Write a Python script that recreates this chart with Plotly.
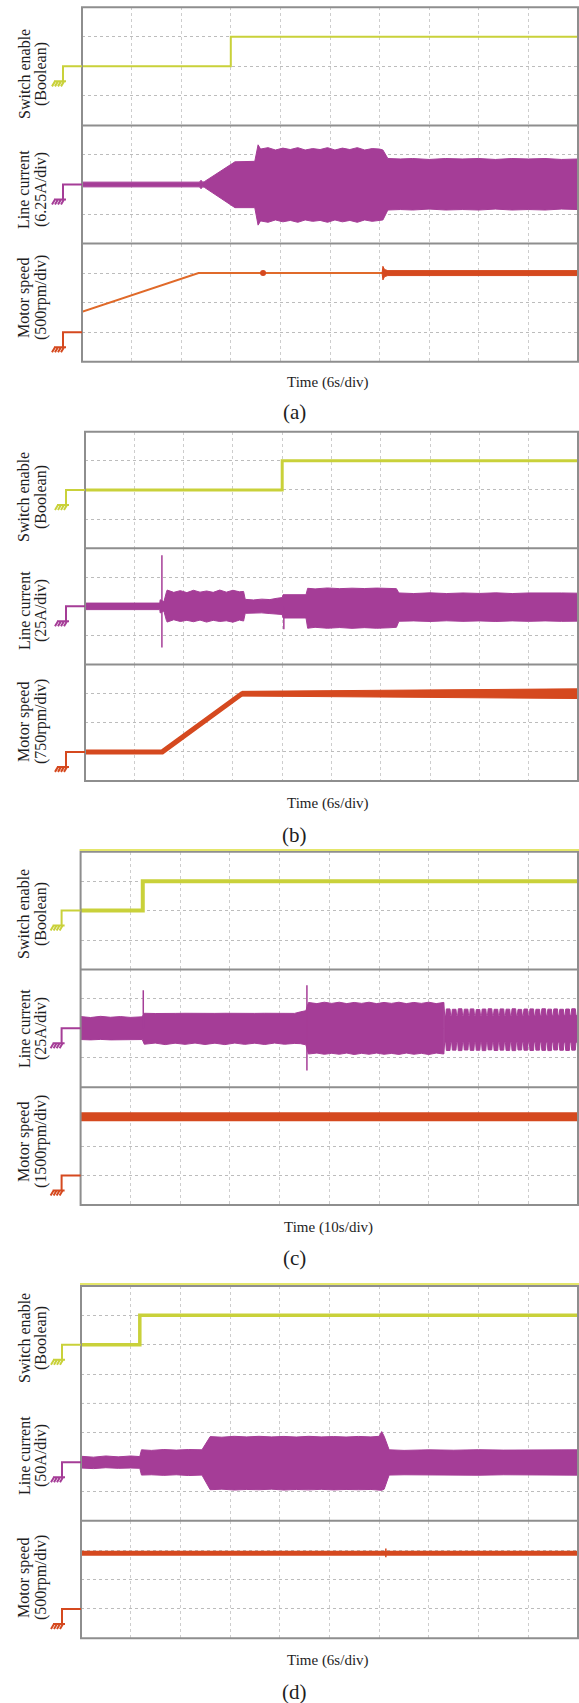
import plotly.graph_objects as go

W, H = 579, 1703

# ---------------- data (time in s, current in A, speed in rpm) ----------------
# Panel (a): 6 s/div, 6.25 A/div, 500 rpm/div
A_SW_T = [0, 18, 18, 60]
A_SW_V = [0, 0, 1, 1]
A_CUR_T = [0, 14.2, 14.4, 14.6, 14.8, 18.5, 20.9, 21.3, 21.6,
           22.5, 23.4, 24.3, 25.2, 26.1, 27.0, 27.9, 28.8, 29.7, 30.6, 31.5, 32.4, 33.3, 34.2, 35.1, 36.0,
           36.4, 37.0,
           38.5, 40, 42, 44, 46, 48, 50, 52, 54, 56, 58, 60]
A_CUR_UP = [0.5, 0.5, 0.9, 0.5, 0.6, 4.8, 4.9, 8.4, 7.5,
            7.8, 7.3, 7.7, 7.4, 7.8, 7.3, 7.6, 7.4, 7.8, 7.3, 7.7, 7.4, 7.8, 7.3, 7.6, 7.5,
            7.3, 5.5,
            5.4, 5.5, 5.3, 5.5, 5.4, 5.5, 5.3, 5.5, 5.4, 5.5, 5.3, 5.4]
A_CUR_LO = [-0.5, -0.5, -0.9, -0.5, -0.6, -4.9, -4.9, -8.6, -7.7,
            -8.0, -7.5, -7.9, -7.6, -8.0, -7.5, -7.8, -7.6, -8.0, -7.5, -7.9, -7.6, -8.0, -7.5, -7.8, -7.6,
            -7.5, -5.4,
            -5.3, -5.4, -5.2, -5.4, -5.3, -5.4, -5.2, -5.4, -5.3, -5.4, -5.2, -5.3]
A_SPD_T = [0, 14.1, 60]
A_SPD_V = [345, 1000, 1000]
A_RIP_T = [36.3, 36.4, 36.6, 37.0, 60]
A_RIP_UP = [1000, 1115, 1060, 1042, 1042]
A_RIP_LO = [1000, 885, 940, 958, 958]
A_BLOB_T = [21.9]
A_BLOB_V = [1000]

# Panel (b): 6 s/div, 25 A/div, 750 rpm/div
B_SW_T = [0, 24, 24, 60]
B_SW_V = [0, 0, 1, 1]
B_CUR_T = [0, 9.1, 9.15, 9.6, 9.9,
           10.0, 10.8, 11.6, 12.4, 13.2, 14.0, 14.8, 15.6, 16.4, 17.2, 18.0, 18.8,
           19.3,
           19.5, 20.5, 21.5, 22.5, 23.4, 24.0,
           24.1, 24.6, 26.9,
           27.1, 28.0, 29.5, 31.0, 32.5, 34.0, 35.5, 37.0, 37.9,
           38.2, 40, 42, 44, 46, 48, 50, 52, 54, 56, 58, 60]
B_CUR_UP = [2.8, 2.8, 5.7, 4.0, 12.0,
            14.0, 12.0, 13.5, 11.8, 13.8, 12.2, 13.2, 12.0, 14.0, 12.2, 13.8, 12.5,
            12.8,
            6.0, 5.5, 6.2, 5.8, 7.0, 7.5,
            10.0, 10.0, 10.0,
            15.5, 15.0, 15.8, 15.2, 15.6, 15.3, 15.7, 15.4, 15.2,
            11.5, 11.0, 11.6, 11.0, 11.5, 11.1, 11.6, 11.0, 11.5, 11.2, 11.5, 11.3]
B_CUR_LO = [-2.8, -2.8, -5.7, -4.0, -12.0,
            -13.5, -11.5, -13.0, -12.0, -13.2, -11.8, -13.5, -12.0, -13.0, -12.4, -13.6, -11.8,
            -12.6,
            -6.0, -5.8, -5.6, -6.2, -6.5, -7.0,
            -10.0, -10.5, -10.0,
            -18.8, -18.0, -18.8, -18.2, -18.9, -18.3, -18.8, -18.4, -18.0,
            -12.8, -12.5, -13.0, -12.4, -12.9, -12.5, -13.0, -12.5, -12.9, -12.5, -12.9, -12.7]
B_SPIKE_T = [9.36, 24.2]
B_SPIKE_HI = [43.8, 0]
B_SPIKE_LO = [-35.3, -19.7]
B_SPD_T = [0, 9.4, 19.1, 60]
B_SPD_V = [0, 0, 1500, 1500]
B_RIP_T = [19.1, 30, 45, 60]
B_RIP_UP = [1560, 1575, 1600, 1625]
B_RIP_LO = [1440, 1425, 1400, 1375]

# Panel (c): 10 s/div, 25 A/div, 1500 rpm/div
C_SW_T = [0, 12.5, 12.5, 100]
C_SW_V = [0, 0, 1, 1]
C_CUR_T = [0, 2, 4, 6, 8, 10, 12.4,
           12.8, 15, 17, 19, 21, 23, 25, 27, 29, 31, 33, 35, 37, 39, 41, 43,
           44.2, 45.3,
           45.8,
           47.5, 49, 50.5, 52, 53.5, 55, 56.5, 58, 59.5, 61, 62.5, 64, 65.5, 67, 68.5, 70, 71.5, 73.0]
C_CUR_UP = [10.0, 9.2, 10.2, 9.4, 10.0, 9.3, 9.8,
            12.8, 12.6, 12.9, 12.7, 12.8, 12.6, 12.9, 12.7, 12.8, 12.6, 12.9, 12.7, 12.8, 12.6, 12.9, 12.7,
            14.0, 15.0,
            22.0,
            21.0, 22.2, 21.2, 22.2, 21.0, 22.0, 21.2, 22.2, 21.0, 22.0, 21.2, 22.2, 21.0, 22.0, 21.2, 22.2, 21.0, 22.0]
C_CUR_LO = [-9.5, -9.8, -9.4, -9.8, -9.3, -9.7, -9.5,
            -13.5, -12.5, -13.8, -12.6, -13.6, -12.5, -13.7, -12.6, -13.8, -12.5, -13.6, -12.6, -13.7, -12.5, -13.5, -12.8,
            -13.0, -14.0,
            -21.8,
            -21.0, -22.0, -21.2, -22.0, -21.0, -22.2, -21.2, -22.0, -21.0, -22.0, -21.3, -22.1, -21.0, -22.0, -21.2, -22.2, -21.0, -21.8]
C_COMB_START = 73.2
C_COMB_T = [73.9, 75.1, 76.3, 77.5, 78.7, 79.9, 81.1, 82.3, 83.5, 84.7, 85.9,
            87.1, 88.3, 89.5, 90.7, 91.9, 93.1, 94.3, 95.5, 96.7, 97.9, 99.1]
C_COMB_UP = [16.5, 16.2, 16.6, 16.3, 16.5, 16.0, 16.4, 16.6, 16.2, 16.5, 16.3,
             16.6, 16.1, 16.4, 16.5, 16.2, 16.6, 16.3, 16.5, 16.2, 16.4, 16.6]
C_COMB_LO = [-18.8, -18.5, -18.9, -18.4, -18.7, -18.6, -18.9, -18.3, -18.8, -18.5, -18.7,
             -18.9, -18.4, -18.6, -18.8, -18.5, -18.7, -18.9, -18.4, -18.6, -18.8, -18.5]
C_COMB_BASE_UP = 11.0
C_COMB_BASE_LO = -11.75
C_SPIKE_T = [12.6, 45.5]
C_SPIKE_HI = [32.3, 36.5]
C_SPIKE_LO = [0, -35.8]
C_SPD_T = [0, 100]
C_SPD_V = [3000, 3000]

# Panel (d): 6 s/div, 50 A/div, 500 rpm/div
D_SW_T = [0, 7.1, 7.1, 60]
D_SW_V = [0, 0, 1, 1]
D_CUR_T = [0, 1.5, 3, 4.5, 6, 7.1,
           7.3, 8.5, 10, 11.5, 13, 14.6,
           15.6, 17, 18.5, 20, 21.5, 23, 24.5, 26, 27.5, 29, 30.5, 32, 33.5, 35,
           36.0, 36.3, 36.6, 37.2,
           39, 42, 45, 48, 51, 54, 57, 60]
D_CUR_UP = [10, 8.5, 10.5, 9, 10.5, 9.5,
            21, 20, 21.5, 20.5, 21.5, 21,
            43.5, 42.5, 44, 43, 44, 43, 43.8, 42.8, 44, 43, 43.6, 42.8, 43.8, 43,
            44, 52, 44, 21,
            20, 21, 20.3, 21.2, 20.5, 21, 20.4, 21]
D_CUR_LO = [-10, -11, -9.5, -10.5, -10, -10.5,
            -22, -21.5, -22.5, -21.5, -22.8, -22,
            -47, -46, -47.5, -46.5, -47, -46, -47.5, -46.5, -47.2, -46.3, -47.3, -46.5, -47, -46.5,
            -47.5, -48, -46, -22,
            -21.5, -22.5, -21.8, -22.3, -21.5, -22.5, -21.8, -22.2]
D_SPD_T = [0, 60]
D_SPD_V = [950, 950]
D_BLIP_T = [36.8, 36.8]
D_BLIP_V = [880, 1030]

for a, b in [(A_CUR_T, A_CUR_UP), (A_CUR_T, A_CUR_LO), (B_CUR_T, B_CUR_UP), (B_CUR_T, B_CUR_LO),
             (C_CUR_T, C_CUR_UP), (C_CUR_T, C_CUR_LO), (C_COMB_T, C_COMB_UP), (C_COMB_T, C_COMB_LO),
             (D_CUR_T, D_CUR_UP), (D_CUR_T, D_CUR_LO)]:
    assert len(a) == len(b), (len(a), len(b))

# ---------------- style / geometry ----------------
YEL = '#c9d13a'
MAG = '#a53d97'
ORG = '#d5491f'
ORG_A = '#e06a2a'
BORDER = '#8e8e8e'
FONT = 'Liberation Serif'
R_PX = 578

PANELS = [
    dict(tag='(a)', L=82, T=7.3, B=361.7, sdiv=6, adiv=6.25, rdiv=500, tunit='Time (6s/div)',
         cur_lab='(6.25A/div)', spd_lab='(500rpm/div)', lab_y=[74, 190, 298], time_y=383, tag_y=412,
         sep=[True, True], top_line=None),
    dict(tag='(b)', L=85, T=431.7, B=781, sdiv=6, adiv=25, rdiv=750, tunit='Time (6s/div)',
         cur_lab='(25A/div)', spd_lab='(750rpm/div)', lab_y=[497, 611, 722], time_y=803, tag_y=835,
         sep=[True, True], top_line=None),
    dict(tag='(c)', L=80.6, T=851.7, B=1205, sdiv=10, adiv=25, rdiv=1500, tunit='Time (10s/div)',
         cur_lab='(25A/div)', spd_lab='(1500rpm/div)', lab_y=[914, 1029, 1142], time_y=1227, tag_y=1258,
         sep=[True, True], top_line=850),
    dict(tag='(d)', L=81, T=1286, B=1638.3, sdiv=6, adiv=50, rdiv=500, tunit='Time (6s/div)',
         cur_lab='(50A/div)', spd_lab='(500rpm/div)', lab_y=[1338, 1456, 1578], time_y=1660, tag_y=1692,
         sep=[False, True], top_line=1284),
]


def px(x):
    return x / W


def py(y):
    return 1 - y / H


fig = go.Figure()
layout = dict(width=W, height=H, margin=dict(l=0, r=0, t=0, b=0), paper_bgcolor='white',
              plot_bgcolor='white', showlegend=False)
shapes = []
annotations = []


def axname(k, ax):
    return ax if k == 1 else f'{ax}{k}'


def band_xy(t, up, lo):
    return list(t) + list(t)[::-1], list(up) + list(lo)[::-1]


def add_line(k, x, y, color, width):
    fig.add_trace(go.Scatter(x=x, y=y, mode='lines', line=dict(color=color, width=width),
                             xaxis=axname(k, 'x'), yaxis=axname(k, 'y'), hoverinfo='skip'))


def add_band(k, t, up, lo, color):
    bx, by = band_xy(t, up, lo)
    fig.add_trace(go.Scatter(x=bx, y=by, mode='lines', fill='toself', fillcolor=color,
                             line=dict(color=color, width=1),
                             xaxis=axname(k, 'x'), yaxis=axname(k, 'y'), hoverinfo='skip'))


def add_spikes(k, t, hi, lo, color):
    for ti, h, l in zip(t, hi, lo):
        add_line(k, [ti, ti], [l, h], color, 1.5)


def ground(k, L, color):
    dx = 19
    path = (f'M0,0 L{-dx},0 L{-dx},-15 '
            f'M{-dx - 9},-15 L{-dx + 3},-15 '
            f'M{-dx - 8},-15 L{-dx - 11},-20 M{-dx - 5},-15 L{-dx - 8},-20 '
            f'M{-dx - 2},-15 L{-dx - 5},-20 M{-dx + 1},-15 L{-dx - 2},-20')
    shapes.append(dict(type='path', xref='paper', yref=axname(k, 'y'), xsizemode='pixel',
                       ysizemode='pixel', xanchor=px(L), yanchor=0, path=path,
                       line=dict(color=color, width=2), layer='above'))


for p, P in enumerate(PANELS):
    L, T, B = P['L'], P['T'], P['B']
    h = (B - T) / 12
    S, A, RR = P['sdiv'], P['adiv'], P['rdiv']
    ranges = [[-2, 2], [-2 * A, 2 * A], [-RR, 3 * RR]]
    yticks = [[-1, 0, 1], [-A, 0, A], [0, RR, 2 * RR]]
    for s in range(3):
        k = p * 3 + s + 1
        top = T + s * 4 * h
        bot = T + (s + 1) * 4 * h
        layout[axname(k, 'xaxis')] = dict(
            domain=[px(L), px(R_PX)], range=[0, 10 * S], anchor=axname(k, 'y'),
            tickvals=[S * i for i in range(1, 10)], showticklabels=False, ticks='',
            showgrid=True, gridcolor='#cdcdcd', griddash='dot', gridwidth=1,
            zeroline=False, showline=False, fixedrange=True)
        layout[axname(k, 'yaxis')] = dict(
            domain=[py(bot), py(top)], range=ranges[s], anchor=axname(k, 'x'),
            tickvals=yticks[s], showticklabels=False, ticks='',
            showgrid=True, gridcolor='#bcbcbc', griddash='dot', gridwidth=1,
            zeroline=False, showline=False, fixedrange=True)

    # borders
    shapes.append(dict(type='rect', xref='paper', yref='paper', x0=px(L), x1=px(R_PX),
                       y0=py(B), y1=py(T), line=dict(color=BORDER, width=2), layer='above'))
    for j, solid in enumerate(P['sep']):
        yy = py(T + (j + 1) * 4 * h)
        if solid:
            shapes.append(dict(type='line', xref='paper', yref='paper', x0=px(L), x1=px(R_PX),
                               y0=yy, y1=yy, line=dict(color=BORDER, width=2), layer='above'))
        else:
            shapes.append(dict(type='line', xref='paper', yref='paper', x0=px(L), x1=px(R_PX),
                               y0=yy, y1=yy, line=dict(color='#bcbcbc', width=1, dash='dot'),
                               layer='below'))
    if P['top_line'] is not None:
        yy = py(P['top_line'])
        shapes.append(dict(type='line', xref='paper', yref='paper', x0=px(L - 1), x1=1,
                           y0=yy, y1=yy, line=dict(color='#e4e66a', width=2), layer='above'))

    # ground markers
    ground(p * 3 + 1, L, YEL)
    ground(p * 3 + 2, L, MAG)
    ground(p * 3 + 3, L, ORG)

    # labels
    labs = [('Switch enable', '(Boolean)'), ('Line current', P['cur_lab']), ('Motor speed', P['spd_lab'])]
    for (l1, l2), yc in zip(labs, P['lab_y']):
        for txt, xc in [(l1, 24), (l2, 41)]:
            annotations.append(dict(text=txt, x=px(xc), y=py(yc), xref='paper', yref='paper',
                                    textangle=-90, showarrow=False, xanchor='center', yanchor='middle',
                                    font=dict(family=FONT, size=16, color='#1e1e1e')))
    annotations.append(dict(text=P['tunit'], x=px(328), y=py(P['time_y']), xref='paper', yref='paper',
                            showarrow=False, xanchor='center', yanchor='middle',
                            font=dict(family=FONT, size=15, color='#1e1e1e')))
    annotations.append(dict(text=P['tag'], x=px(294), y=py(P['tag_y']), xref='paper', yref='paper',
                            showarrow=False, xanchor='center', yanchor='middle',
                            font=dict(family=FONT, size=21, color='#1e1e1e')))

# ---------------- traces ----------------
# (a)
add_line(1, A_SW_T, A_SW_V, YEL, 2)
add_band(2, A_CUR_T, A_CUR_UP, A_CUR_LO, MAG)
add_line(3, A_SPD_T, A_SPD_V, ORG_A, 2)
add_band(3, A_RIP_T, A_RIP_UP, A_RIP_LO, ORG)
fig.add_trace(go.Scatter(x=A_BLOB_T, y=A_BLOB_V, mode='markers', marker=dict(color=ORG, size=6),
                         xaxis='x3', yaxis='y3', hoverinfo='skip'))
# (b)
add_line(4, B_SW_T, B_SW_V, YEL, 3)
add_band(5, B_CUR_T, B_CUR_UP, B_CUR_LO, MAG)
add_spikes(5, B_SPIKE_T, B_SPIKE_HI, B_SPIKE_LO, MAG)
add_band(6, B_RIP_T, B_RIP_UP, B_RIP_LO, ORG)
add_line(6, B_SPD_T, B_SPD_V, ORG, 5)
# (c)
add_line(7, C_SW_T, C_SW_V, YEL, 4)
add_band(8, C_CUR_T, C_CUR_UP, C_CUR_LO, MAG)
comb_up_x, comb_up_y = [C_COMB_START], [C_COMB_BASE_UP]
comb_lo_x, comb_lo_y = [C_COMB_START], [C_COMB_BASE_LO]
for c, u, l in zip(C_COMB_T, C_COMB_UP, C_COMB_LO):
    comb_up_x += [c - 0.5, c - 0.36, c + 0.36, c + 0.5]
    comb_up_y += [C_COMB_BASE_UP, u, u, C_COMB_BASE_UP]
    comb_lo_x += [c - 0.5, c - 0.36, c + 0.36, c + 0.5]
    comb_lo_y += [C_COMB_BASE_LO, l, l, C_COMB_BASE_LO]
comb_up_x.append(100)
comb_up_y.append(C_COMB_BASE_UP)
comb_lo_x.append(100)
comb_lo_y.append(C_COMB_BASE_LO)
fig.add_trace(go.Scatter(x=comb_up_x + comb_lo_x[::-1], y=comb_up_y + comb_lo_y[::-1], mode='lines',
                         fill='toself', fillcolor=MAG, line=dict(color=MAG, width=1),
                         xaxis='x8', yaxis='y8', hoverinfo='skip'))
add_band(8, [C_CUR_T[-1], C_COMB_START], [C_CUR_UP[-1], C_COMB_BASE_UP], [C_CUR_LO[-1], C_COMB_BASE_LO], MAG)
add_spikes(8, C_SPIKE_T, C_SPIKE_HI, C_SPIKE_LO, MAG)
add_line(9, C_SPD_T, C_SPD_V, ORG, 9)
# (d)
add_line(10, D_SW_T, D_SW_V, YEL, 3.5)
add_band(11, D_CUR_T, D_CUR_UP, D_CUR_LO, MAG)
add_line(12, D_SPD_T, D_SPD_V, ORG, 5)
add_line(12, D_BLIP_T, D_BLIP_V, ORG, 1.5)

layout['shapes'] = shapes
layout['annotations'] = annotations
fig.update_layout(**layout)
fig.write_html('out.html')
